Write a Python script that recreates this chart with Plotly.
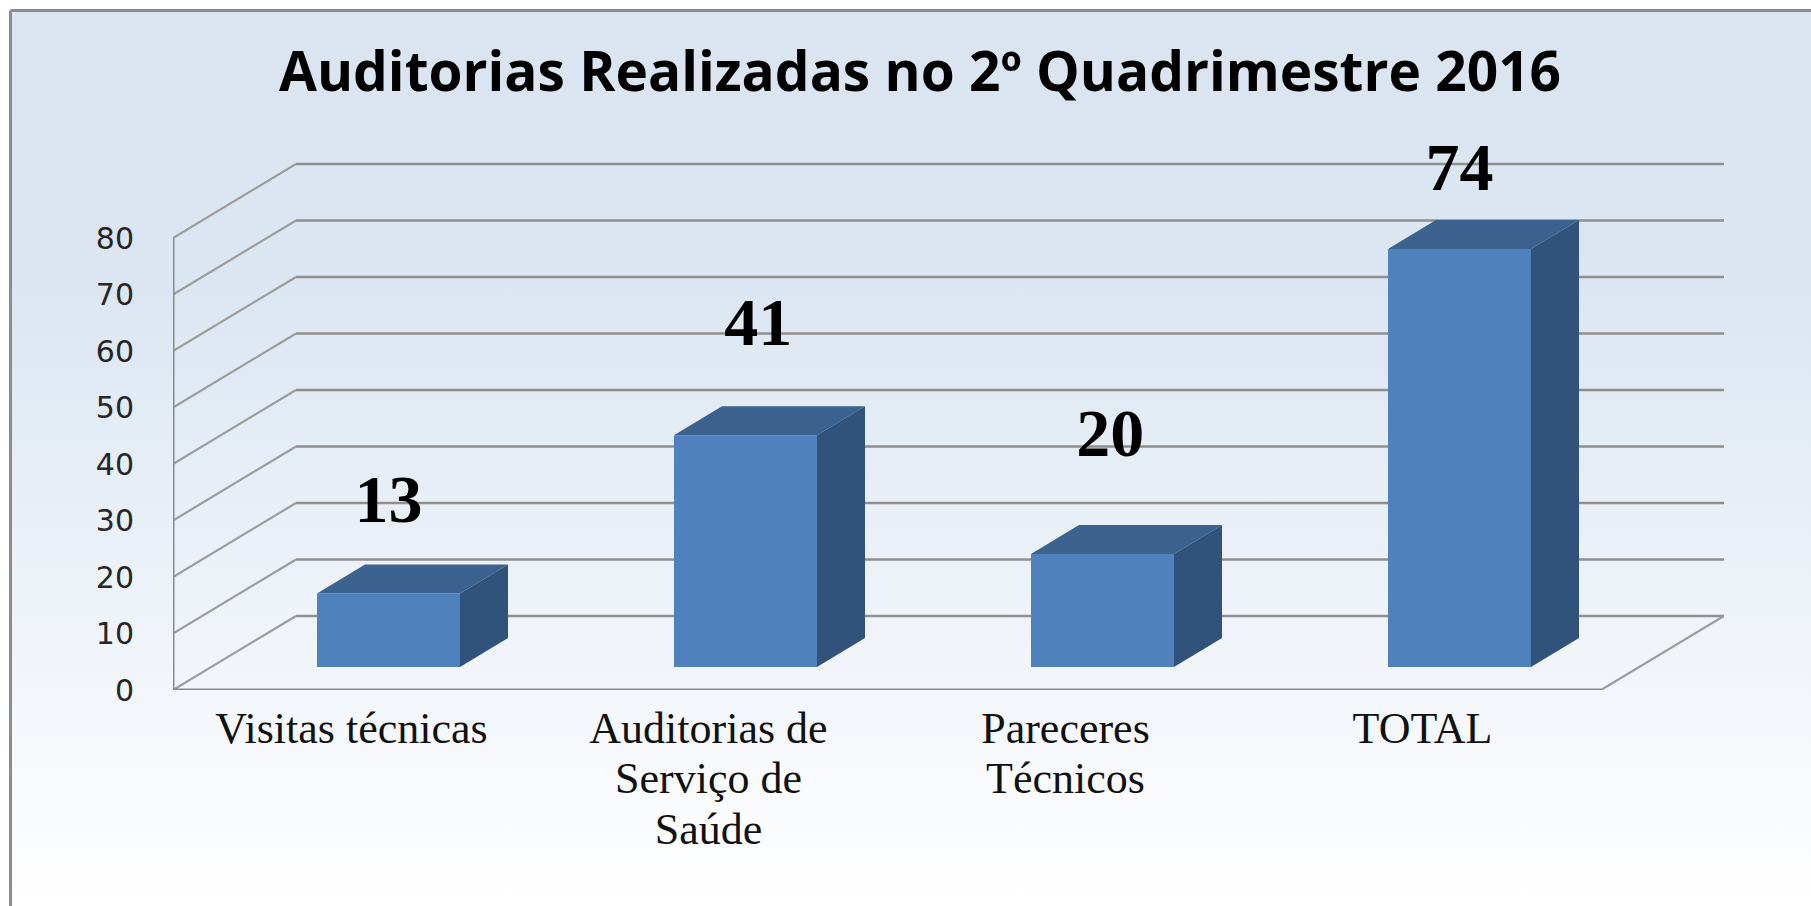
import plotly.graph_objects as go

category_lines = [["Visitas técnicas"], ["Auditorias de", "Serviço de", "Saúde"], ["Pareceres", "Técnicos"], ["TOTAL"]]
values = [13, 41, 20, 74]
y_ticks = [0, 10, 20, 30, 40, 50, 60, 70, 80]
title_text = "Auditorias Realizadas no 2º Quadrimestre 2016"

W, H = 1811, 906
PX_X = 357.0            # pixels per category
PX_Y = 5.65             # pixels per value unit
LEFT, RIGHT = 173, 1724
BOTTOM, TOP = 690, 148
X0 = -0.5
X1 = X0 + (RIGHT - LEFT) / PX_X
Y1 = (BOTTOM - TOP) / PX_Y
WALL_DX = 123 / PX_X    # depth of the chart floor, in axis units
WALL_DY = 74 / PX_Y
BAR_SHIFT = 37 / PX_X   # bars stand part-way into the floor
BAR_BASE = 23 / PX_Y
BAR_W = 143 / PX_X
BAR_DX = 48 / PX_X
BAR_DY = 29 / PX_Y
LABEL_LIFT = [15.7, 19.0, 20.3, 13.4]
LABEL_SHIFT = [0.0, 0.036, 0.022, 0.0]
CAT_FIRST_Y = -7.4      # first line of a category label, in value units below the axis
CAT_LINE_STEP = 8.95    # distance between its lines

FRONT, TOPC, SIDE = "#4f81bd", "#3c6290", "#31527a"
LINE = "#8f8f8f"
SERIF = "Liberation Serif"

fig = go.Figure()

# background gradient (x/y), lines (x2/y2), bars (x3/y3)
fig.add_trace(go.Scatter(
    x=[0, 1, 1, 0, 0], y=[0, 0, 1, 1, 0], mode="none", fill="toself", hoverinfo="skip",
    fillgradient=dict(type="vertical", colorscale=[[0, "#ffffff"], [0.69, "#dce6f2"], [1, "#dbe5f1"]]),
    xaxis="x", yaxis="y", showlegend=False))

# back wall
for t in y_ticks:
    fig.add_trace(go.Scatter(x=[X0 + WALL_DX, X1], y=[t + WALL_DY, t + WALL_DY], mode="lines",
                             line=dict(color=LINE, width=2.5), xaxis="x2", yaxis="y2",
                             showlegend=False, hoverinfo="skip"))
    fig.add_trace(go.Scatter(x=[X0, X0 + WALL_DX], y=[t, t + WALL_DY], mode="lines",
                             line=dict(color="#9c9c9c", width=2.2), xaxis="x2", yaxis="y2",
                             showlegend=False, hoverinfo="skip"))
# floor right edge and front axes
fig.add_trace(go.Scatter(x=[X0 + 4, X1], y=[0, WALL_DY], mode="lines",
                         line=dict(color="#9c9c9c", width=2.2), xaxis="x2", yaxis="y2",
                         showlegend=False, hoverinfo="skip"))
fig.add_trace(go.Scatter(x=[X0, X0, X0 + 4], y=[y_ticks[-1], 0, 0], mode="lines",
                         line=dict(color="#8a8a8a", width=3), xaxis="x2", yaxis="y2",
                         showlegend=False, hoverinfo="skip"))

# bars
bar_x = [i + BAR_SHIFT for i in range(len(values))]
fig.add_trace(go.Bar(x=bar_x, y=values, base=BAR_BASE, width=BAR_W, marker=dict(color=FRONT, line=dict(width=0)),
                     xaxis="x3", yaxis="y3", showlegend=False))
for cx, v in zip(bar_x, values):
    l, r = cx - BAR_W / 2, cx + BAR_W / 2
    b, t = BAR_BASE, BAR_BASE + v
    fig.add_trace(go.Scatter(x=[l, l + BAR_DX, r + BAR_DX, r, l], y=[t, t + BAR_DY, t + BAR_DY, t, t],
                             mode="none", fill="toself", fillcolor=TOPC, xaxis="x3", yaxis="y3",
                             showlegend=False, hoverinfo="skip"))
    fig.add_trace(go.Scatter(x=[r, r + BAR_DX, r + BAR_DX, r, r], y=[b, b + BAR_DY, t + BAR_DY, t, b],
                             mode="none", fill="toself", fillcolor=SIDE, xaxis="x3", yaxis="y3",
                             showlegend=False, hoverinfo="skip"))

# data labels
fig.add_trace(go.Scatter(
    x=[c + s for c, s in zip(bar_x, LABEL_SHIFT)],
    y=[v + BAR_BASE + l for v, l in zip(values, LABEL_LIFT)],
    mode="text", text=[str(v) for v in values], textposition="middle center",
    textfont=dict(family=SERIF, size=68, color="#000000", weight="bold"),
    cliponaxis=False, xaxis="x3", yaxis="y3", showlegend=False, hoverinfo="skip"))

# category labels, line by line
cat_x, cat_y, cat_text = [], [], []
for i, lines in enumerate(category_lines):
    for j, line in enumerate(lines):
        cat_x.append(i)
        cat_y.append(CAT_FIRST_Y - j * CAT_LINE_STEP)
        cat_text.append(line)
fig.add_trace(go.Scatter(
    x=cat_x, y=cat_y, mode="text", text=cat_text, textposition="middle center",
    textfont=dict(family=SERIF, size=44, color="#111111"),
    cliponaxis=False, xaxis="x3", yaxis="y3", showlegend=False, hoverinfo="skip"))

dx = [LEFT / W, RIGHT / W]
dy = [1 - BOTTOM / H, 1 - TOP / H]
hidden = dict(visible=False, fixedrange=True)
fig.update_layout(
    width=W, height=H, autosize=False,
    margin=dict(l=0, r=0, t=0, b=0, autoexpand=False),
    paper_bgcolor="#ffffff", plot_bgcolor="rgba(0,0,0,0)",
    showlegend=False, barmode="overlay",
    title=dict(text=title_text, x=920 / W, xanchor="center", xref="container", y=1 - 72 / H, yanchor="middle",
               yref="container", font=dict(family="Open Sans", size=55, color="#000000", weight="bold")),
    xaxis=dict(domain=[12 / W, 1], range=[0, 1], **hidden),
    yaxis=dict(domain=[0, 1 - 12 / H], range=[0, 1], **hidden),
    xaxis2=dict(domain=dx, range=[X0, X1], anchor="y2", showgrid=False, zeroline=False, showline=False,
                showticklabels=False, ticks="", fixedrange=True),
    yaxis2=dict(domain=dy, range=[0, Y1], anchor="x2", showgrid=False, zeroline=False, showline=False,
                tickmode="array", tickvals=y_ticks, ticktext=[str(t) for t in y_ticks],
                ticks="outside", ticklen=32, tickcolor="rgba(0,0,0,0)",
                tickfont=dict(family="DejaVu Sans", size=30, color="#262626"), fixedrange=True),
    # the bar layer runs to the page bottom so the category text below the axis stays in range
    xaxis3=dict(domain=dx, range=[X0, X1], anchor="y3", **hidden),
    yaxis3=dict(domain=[0, dy[1]], range=[-(H - BOTTOM) / PX_Y, Y1], anchor="x3", **hidden),
    shapes=[
        dict(type="line", xref="paper", yref="paper", x0=10.5 / W, x1=1, y0=1 - 10.5 / H, y1=1 - 10.5 / H,
             line=dict(color="#8c8c8c", width=3), layer="above"),
        dict(type="line", xref="paper", yref="paper", x0=10.5 / W, x1=10.5 / W, y0=0, y1=1 - 10.5 / H,
             line=dict(color="#8c8c8c", width=3), layer="above"),
    ],
)

fig.write_html("out.html", config={"displayModeBar": False},
               post_script="document.body.style.margin='0';document.body.style.overflow='hidden';")
